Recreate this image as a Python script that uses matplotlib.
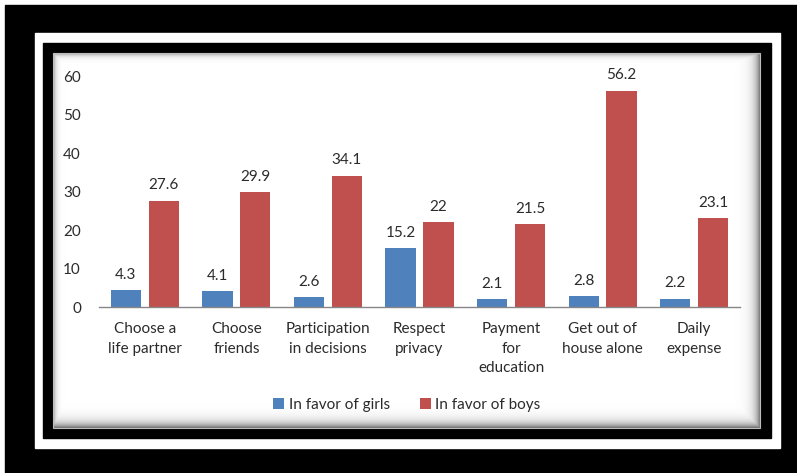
import numpy as np
import matplotlib
matplotlib.use("Agg")
import matplotlib.pyplot as plt
from matplotlib.patches import Rectangle

# Survey results: share (%) of decisions made in favour of girls vs boys
categories = [
    "Choose a\nlife partner",
    "Choose\nfriends",
    "Participation\nin decisions",
    "Respect\nprivacy",
    "Payment\nfor\neducation",
    "Get out of\nhouse alone",
    "Daily\nexpense",
]
girls = [4.3, 4.1, 2.6, 15.2, 2.1, 2.8, 2.2]
boys = [27.6, 29.9, 34.1, 22, 21.5, 56.2, 23.1]
girls_labels = ["4.3", "4.1", "2.6", "15.2", "2.1", "2.8", "2.2"]
boys_labels = ["27.6", "29.9", "34.1", "22", "21.5", "56.2", "23.1"]
yticks = [0, 10, 20, 30, 40, 50, 60]

W, H = 797, 473
BLUE = "#4F81BD"
RED = "#C0504D"
TEXT = "#2b2b2b"
FS = 11
plt.rcParams["font.family"] = ["Lato", "DejaVu Sans"]

fig = plt.figure(figsize=(W / 100, H / 100), dpi=100, facecolor="white")

# frame drawn in pixel coordinates (origin top-left)
bg = fig.add_axes([0, 0, 1, 1])
bg.set_xlim(0, W)
bg.set_ylim(H, 0)
bg.axis("off")
bg.add_patch(Rectangle((5, 5), W - 5, H - 5, color="black"))
bg.add_patch(Rectangle((35, 33), 745, 415, color="white"))
bg.add_patch(Rectangle((43, 43), 728, 395, color="black"))

# chart area with an inner shadow along its edges
x0, x1, y0, y1 = 53, 760, 53, 428
xx, yy = np.meshgrid(np.arange(x0, x1) + 0.5, np.arange(y0, y1) + 0.5)
shade = np.maximum.reduce([
    0.45 * np.exp(-(xx - x0) / 2.5),
    0.45 * np.exp(-(yy - y0) / 2.5),
    0.55 * np.exp(-(x1 - xx) / 5.0),
    0.60 * np.exp(-(y1 - yy) / 5.0),
])
bg.imshow(1 - shade, cmap="gray", vmin=0, vmax=1,
          extent=(x0, x1, y1, y0), interpolation="bilinear", zorder=2)
bg.add_patch(Rectangle((x0, y0), x1 - x0, y1 - y0, fill=False,
                       edgecolor="#bdbdbd", linewidth=0.8, zorder=3))

ax = fig.add_axes([99 / W, 1 - 307 / H, (740 - 99) / W, 231 / H])
ax.patch.set_alpha(0)

x = np.arange(len(categories))
bw = 0.33
off = 0.207
bars_g = ax.bar(x - off, girls, bw, color=BLUE, label="In favor of girls", zorder=2)
bars_b = ax.bar(x + off, boys, bw, color=RED, label="In favor of boys", zorder=2)

for bars, labels in ((bars_g, girls_labels), (bars_b, boys_labels)):
    for b, lab in zip(bars, labels):
        ax.annotate(lab, (b.get_x() + b.get_width() / 2, b.get_height()),
                    xytext=(0, 6), textcoords="offset points",
                    ha="center", va="bottom", fontsize=FS, color=TEXT)

ax.set_xlim(-0.5, len(categories) - 0.5)
ax.set_ylim(0, 60)
ax.set_yticks(yticks)
ax.set_xticks(x)
ax.set_xticklabels(categories, fontsize=FS, color=TEXT, linespacing=1.5)
ax.tick_params(axis="y", length=0, pad=13, labelsize=FS, labelcolor=TEXT)
ax.tick_params(axis="x", length=0, pad=11)
for side in ("top", "right", "left"):
    ax.spines[side].set_visible(False)
ax.spines["bottom"].set_color("#868686")
ax.spines["bottom"].set_linewidth(1.0)

fig.legend(handles=[bars_g, bars_b], loc="center", bbox_to_anchor=(407 / W, 1 - 405 / H),
           ncol=2, frameon=False, fontsize=FS, labelcolor=TEXT,
           handlelength=0.7, handleheight=0.7, handletextpad=0.3, columnspacing=2.0)

fig.savefig("out.png", dpi=100, facecolor=fig.get_facecolor())
